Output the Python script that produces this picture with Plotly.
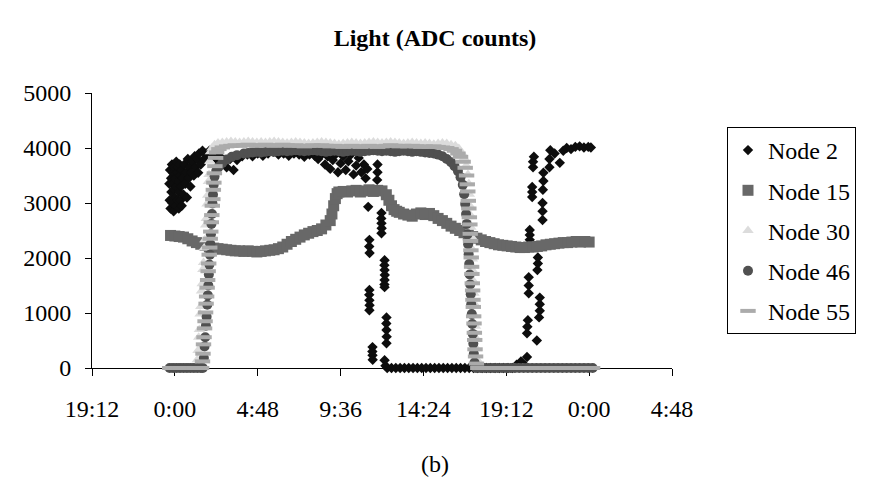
import plotly.graph_objects as go

FONT = "Liberation Serif, Times New Roman, serif"

# ---- axis ticks (time in hours from midnight of day 1) ----
x_tick_hours = [-4.8, 0.0, 4.8, 9.6, 14.4, 19.2, 24.0, 28.8]
x_tick_labels = ["19:12", "0:00", "4:48", "9:36", "14:24", "19:12", "0:00", "4:48"]
y_tick_values = [0, 1000, 2000, 3000, 4000, 5000]

# ---- Node 2 (hour, ADC) ----
node2_morning = [(-0.32, 3350), (-0.3, 3050), (-0.28, 3600), (-0.25, 2900), (-0.22, 3450), (-0.2, 3200),
                 (-0.17, 3700), (-0.15, 3000), (-0.12, 3350), (-0.1, 3550), (-0.07, 2850), (-0.05, 3250),
                 (-0.02, 3650), (0.0, 3100), (0.03, 3450), (0.05, 2950), (0.08, 3750), (0.1, 3300),
                 (0.13, 3550), (0.15, 3050), (0.18, 3650), (0.2, 3400), (0.23, 2900), (0.25, 3200),
                 (0.28, 3700), (0.3, 3500), (0.33, 3050), (0.35, 3300), (0.38, 3600), (0.4, 2950),
                 (0.45, 3450), (0.5, 3150), (0.55, 3700), (0.6, 3350), (0.65, 3550), (0.7, 3100),
                 (0.75, 3800), (0.8, 3450), (0.85, 3650), (0.9, 3300), (0.95, 3550), (1.0, 3750),
                 (1.1, 3500), (1.15, 3850), (1.2, 3650), (1.3, 3800), (1.35, 3550), (1.4, 3900),
                 (1.5, 3700), (1.6, 3950), (1.7, 3800), (1.8, 3900), (1.9, 3850), (2.0, 3950),
                 (2.1, 3850), (2.2, 3900)]
node2_day = [(2.4, 3800), (2.6, 3850), (2.8, 3750), (3.0, 3650), (3.2, 3800), (3.4, 3600), (3.6, 3780),
             (3.9, 3850), (4.2, 3880), (4.5, 3850), (4.8, 3900), (5.1, 3860), (5.4, 3900), (5.7, 3930),
             (6.0, 3880), (6.3, 3900), (6.6, 3860), (6.9, 3900), (7.2, 3880), (7.5, 3840), (7.8, 3880),
             (8.1, 3860), (8.3, 3800), (8.5, 3880), (8.7, 3700), (8.85, 3850), (9.0, 3620),
             (9.15, 3780), (9.3, 3880), (9.45, 3560), (9.6, 3720), (9.75, 3850), (9.9, 3600),
             (10.05, 3760), (10.2, 3880), (10.35, 3520), (10.5, 3680), (10.65, 3820), (10.8, 3560),
             (10.95, 3700), (11.05, 3450), (11.15, 3620)]
node2_drop = [(11.74, 3700), (11.74, 3560), (11.72, 3420), (11.2, 2930), (11.97, 2820), (11.96, 2720),
              (11.97, 2630), (11.98, 2540), (11.97, 2450), (11.27, 2330), (11.26, 2210), (11.28, 2090),
              (12.15, 1960), (12.14, 1870), (12.15, 1780), (12.16, 1690), (12.15, 1600), (12.14, 1520),
              (12.15, 1470), (11.27, 1420), (11.26, 1330), (11.27, 1230), (11.28, 1140), (11.27, 1050),
              (12.26, 920), (12.25, 810), (12.26, 690), (12.27, 570), (12.26, 450), (11.45, 380),
              (11.44, 300), (11.45, 230), (11.46, 150), (12.15, 140), (12.2, 40)]
node2_night = [(12.3, 0), (12.55, 0), (12.8, 0), (13.05, 0), (13.3, 0), (13.55, 0), (13.8, 0), (14.05, 0),
               (14.3, 0), (14.55, 0), (14.8, 0), (15.05, 0), (15.3, 0), (15.55, 0), (15.8, 0), (16.05, 0),
               (16.3, 0), (16.55, 0), (16.8, 0), (17.05, 0), (17.3, 0), (17.55, 0), (17.8, 0), (18.05, 0),
               (18.3, 0), (18.55, 0), (18.8, 0), (19.05, 0), (19.3, 0), (19.55, 0)]
node2_rise = [(19.8, 60), (20.05, 120), (20.3, 40), (20.4, 200), (20.97, 500), (20.4, 630), (20.42, 750),
              (20.45, 870), (21.1, 920), (21.14, 1040), (21.14, 1160), (21.14, 1280), (20.5, 1360),
              (20.5, 1500), (20.5, 1650), (21.0, 1780), (21.03, 1900), (21.03, 2010), (20.56, 2330),
              (20.56, 2420), (20.56, 2510), (21.3, 2690), (21.3, 2850), (21.3, 3000), (20.7, 3110),
              (20.7, 3200), (20.7, 3290), (21.32, 3240), (21.35, 3400), (21.35, 3550), (20.75, 3650),
              (20.75, 3750), (20.8, 3840), (21.7, 3650), (21.7, 3800), (21.75, 3960), (22.0, 3900),
              (22.3, 3730), (22.5, 3950), (22.7, 4000), (22.95, 3980), (23.2, 4020), (23.45, 4030),
              (23.7, 4010), (23.95, 4020), (24.1, 4010)]

# ---- Node 15 (hour, ADC) ----
node15 = [(-0.25, 2410), (0.0, 2400), (0.25, 2390), (0.5, 2380), (0.75, 2350), (1.0, 2310), (1.25, 2280),
          (1.5, 2250), (1.75, 2230), (2.0, 2200), (2.25, 2180), (2.5, 2170), (2.75, 2160), (3.0, 2150),
          (3.25, 2140), (3.5, 2130), (3.75, 2130), (4.0, 2120), (4.25, 2130), (4.5, 2120), (4.75, 2110),
          (5.0, 2120), (5.25, 2130), (5.5, 2140), (5.75, 2150), (6.0, 2170), (6.25, 2200), (6.5, 2250),
          (6.75, 2300), (7.0, 2340), (7.25, 2380), (7.5, 2420), (7.75, 2450), (8.0, 2480), (8.25, 2500),
          (8.5, 2530), (8.75, 2600), (9.0, 2680), (9.1, 2800), (9.2, 2950), (9.3, 3080), (9.4, 3170),
          (9.5, 3200), (9.75, 3210), (10.0, 3200), (10.25, 3220), (10.5, 3230), (10.75, 3200),
          (11.0, 3220), (11.25, 3240), (11.5, 3210), (11.75, 3230), (12.0, 3220), (12.25, 3150),
          (12.4, 3050), (12.55, 2950), (12.7, 2880), (12.85, 2850), (13.0, 2830), (13.25, 2800),
          (13.5, 2780), (13.75, 2760), (14.0, 2800), (14.25, 2820), (14.5, 2790), (14.75, 2810),
          (15.0, 2770), (15.25, 2720), (15.5, 2680), (15.75, 2630), (16.0, 2580), (16.25, 2540),
          (16.5, 2500), (16.75, 2460), (17.0, 2420), (17.25, 2390), (17.5, 2360), (17.75, 2330),
          (18.0, 2300), (18.25, 2280), (18.5, 2260), (18.75, 2240), (19.0, 2230), (19.25, 2220),
          (19.5, 2210), (19.75, 2200), (20.0, 2190), (20.25, 2190), (20.5, 2200), (20.75, 2200),
          (21.0, 2210), (21.25, 2220), (21.5, 2240), (21.75, 2250), (22.0, 2260), (22.25, 2270),
          (22.5, 2280), (22.75, 2280), (23.0, 2290), (23.25, 2300), (23.5, 2290), (23.75, 2300),
          (24.0, 2290)]

# ---- Node 30 (hour, ADC) ----
node30 = [(-0.3, 0), (-0.1, 0), (0.1, 0), (0.3, 0), (0.5, 0), (0.7, 0), (0.9, 0), (1.1, 0), (1.25, 0),
          (1.3, 150), (1.34, 320), (1.38, 560), (1.42, 700), (1.46, 980), (1.5, 1120), (1.54, 1400),
          (1.58, 1530), (1.62, 1790), (1.66, 1920), (1.7, 2180), (1.74, 2330), (1.78, 2600), (1.82, 2720),
          (1.86, 2980), (1.9, 3140), (1.94, 3390), (1.98, 3520), (2.02, 3760), (2.06, 3930),
          (2.15, 4000), (2.3, 4060), (2.5, 4090), (2.75, 4100), (3.0, 4110), (3.25, 4120), (3.5, 4110),
          (3.75, 4100), (4.0, 4110), (4.25, 4120), (4.5, 4110), (4.75, 4100), (5.0, 4110), (5.25, 4100),
          (5.5, 4110), (5.75, 4120), (6.0, 4110), (6.25, 4100), (6.5, 4090), (6.75, 4100), (7.0, 4110),
          (7.25, 4100), (7.5, 4090), (7.75, 4080), (8.0, 4090), (8.25, 4100), (8.5, 4110), (8.75, 4100),
          (9.0, 4090), (9.25, 4080), (9.5, 4070), (9.75, 4080), (10.0, 4090), (10.25, 4100), (10.5, 4090),
          (10.75, 4080), (11.0, 4090), (11.25, 4100), (11.5, 4110), (11.75, 4100), (12.0, 4090),
          (12.25, 4100), (12.5, 4110), (12.75, 4100), (13.0, 4090), (13.25, 4080), (13.5, 4090),
          (13.75, 4100), (14.0, 4090), (14.25, 4080), (14.5, 4090), (14.75, 4080), (15.0, 4070),
          (15.25, 4080), (15.5, 4090), (15.75, 4080), (16.0, 4060), (16.25, 4040),
          (16.45, 3990), (16.6, 3920), (16.75, 3820), (16.88, 3680), (16.98, 3520), (17.03, 3350),
          (17.06, 3160), (17.09, 2950), (17.12, 2780), (17.15, 2560), (17.18, 2390), (17.21, 2170),
          (17.24, 1980), (17.27, 1770), (17.3, 1580), (17.33, 1360), (17.36, 1170), (17.39, 950),
          (17.42, 760), (17.45, 540), (17.48, 350), (17.52, 150), (17.58, 30),
          (17.65, 0), (17.9, 0), (18.15, 0), (18.4, 0), (18.65, 0), (18.9, 0), (19.15, 0), (19.4, 0),
          (19.65, 0), (19.9, 0), (20.15, 0), (20.4, 0), (20.65, 0), (20.9, 0), (21.15, 0), (21.4, 0),
          (21.65, 0), (21.9, 0), (22.15, 0), (22.4, 0), (22.65, 0), (22.9, 0), (23.15, 0), (23.4, 0),
          (23.65, 0), (23.9, 0), (24.15, 0)]

# ---- Node 46 (hour, ADC) ----
node46 = [(-0.3, 0), (-0.1, 0), (0.1, 0), (0.3, 0), (0.5, 0), (0.7, 0), (0.9, 0), (1.1, 0), (1.3, 0),
          (1.5, 0), (1.62, 0),
          (1.68, 180), (1.72, 390), (1.76, 560), (1.8, 770), (1.84, 930), (1.88, 1150), (1.91, 1320),
          (1.94, 1500), (1.97, 1700), (2.0, 1880), (2.03, 2060), (2.06, 2250), (2.09, 2430), (2.12, 2620),
          (2.15, 2800), (2.18, 2990), (2.21, 3150), (2.25, 3330), (2.3, 3480),
          (2.4, 3580), (2.55, 3660), (2.75, 3730), (3.0, 3790), (3.3, 3840), (3.6, 3870), (4.0, 3900),
          (4.25, 3910), (4.5, 3920), (4.75, 3930), (5.0, 3920), (5.25, 3930), (5.5, 3940), (5.75, 3930),
          (6.0, 3940), (6.25, 3950), (6.5, 3940), (6.75, 3950), (7.0, 3960), (7.25, 3950), (7.5, 3940),
          (7.75, 3950), (8.0, 3960), (8.25, 3950), (8.5, 3940), (8.75, 3930), (9.0, 3940), (9.25, 3950),
          (9.5, 3940), (9.75, 3930), (10.0, 3940), (10.25, 3950), (10.5, 3940), (10.75, 3930),
          (11.0, 3940), (11.25, 3950), (11.5, 3960), (11.75, 3950), (12.0, 3940), (12.25, 3950),
          (12.5, 3940), (12.75, 3930), (13.0, 3940), (13.25, 3950), (13.5, 3940), (13.75, 3930),
          (14.0, 3940), (14.25, 3930), (14.5, 3920), (14.75, 3910), (15.0, 3900), (15.25, 3880),
          (15.5, 3850), (15.75, 3800), (16.0, 3740), (16.2, 3670), (16.4, 3580), (16.55, 3470),
          (16.68, 3330),
          (16.76, 3160), (16.82, 2980), (16.87, 2800), (16.91, 2620), (16.95, 2430), (16.99, 2250),
          (17.02, 2070), (17.05, 1890), (17.08, 1700), (17.11, 1520), (17.14, 1340), (17.17, 1160),
          (17.2, 980), (17.23, 800), (17.26, 620), (17.29, 440), (17.32, 260), (17.36, 100),
          (17.45, 0), (17.7, 0), (17.95, 0), (18.2, 0), (18.45, 0), (18.7, 0), (18.95, 0), (19.2, 0),
          (19.45, 0), (19.7, 0), (19.95, 0), (20.2, 0), (20.45, 0), (20.7, 0), (20.95, 0), (21.2, 0),
          (21.45, 0), (21.7, 0), (21.95, 0), (22.2, 0), (22.45, 0), (22.7, 0), (22.95, 0), (23.2, 0),
          (23.45, 0), (23.7, 0), (23.95, 0), (24.2, 0)]

# ---- Node 55 (hour, ADC) ----
node55 = [(-0.3, 0), (-0.1, 0), (0.1, 0), (0.3, 0), (0.5, 0), (0.7, 0), (0.9, 0), (1.1, 0), (1.3, 0),
          (1.45, 0), (1.55, 0),
          (1.6, 120), (1.63, 260), (1.66, 430), (1.69, 560), (1.72, 720), (1.75, 850), (1.78, 1010),
          (1.81, 1170), (1.84, 1300), (1.87, 1460), (1.9, 1600), (1.93, 1760), (1.96, 1900), (1.99, 2060),
          (2.02, 2190), (2.05, 2350), (2.08, 2480), (2.11, 2650), (2.14, 2780), (2.17, 2950), (2.2, 3070),
          (2.23, 3240), (2.26, 3370), (2.29, 3540), (2.32, 3670), (2.36, 3820), (2.42, 3920),
          (2.55, 3980), (2.75, 4010), (3.0, 4030), (3.25, 4040), (3.5, 4050), (3.75, 4040), (4.0, 4050),
          (4.25, 4060), (4.5, 4050), (4.75, 4040), (5.0, 4050), (5.25, 4060), (5.5, 4050), (5.75, 4040),
          (6.0, 4050), (6.25, 4060), (6.5, 4050), (6.75, 4040), (7.0, 4050), (7.25, 4040), (7.5, 4030),
          (7.75, 4040), (8.0, 4050), (8.25, 4040), (8.5, 4050), (8.75, 4040), (9.0, 4030), (9.25, 4040),
          (9.5, 4030), (9.75, 4020), (10.0, 4030), (10.25, 4040), (10.5, 4030), (10.75, 4020),
          (11.0, 4030), (11.25, 4040), (11.5, 4030), (11.75, 4020), (12.0, 4030), (12.25, 4040),
          (12.5, 4050), (12.75, 4040), (13.0, 4030), (13.25, 4040), (13.5, 4030), (13.75, 4040),
          (14.0, 4030), (14.25, 4020), (14.5, 4030), (14.75, 4020), (15.0, 4030), (15.25, 4020),
          (15.5, 4010), (15.75, 4000), (16.0, 3980), (16.2, 3950), (16.4, 3900), (16.55, 3840),
          (16.7, 3750), (16.82, 3640),
          (16.9, 3500), (16.94, 3340), (16.97, 3210), (17.0, 3040), (17.03, 2900), (17.06, 2740),
          (17.09, 2610), (17.11, 2440), (17.13, 2310), (17.15, 2140), (17.17, 2010), (17.19, 1840),
          (17.21, 1710), (17.23, 1540), (17.25, 1410), (17.27, 1240), (17.29, 1110), (17.31, 940),
          (17.33, 810), (17.35, 640), (17.37, 510), (17.39, 340), (17.42, 210), (17.47, 80),
          (17.55, 0), (17.8, 0), (18.05, 0), (18.3, 0), (18.55, 0), (18.8, 0), (19.05, 0), (19.3, 0),
          (19.55, 0), (19.8, 0), (20.05, 0), (20.3, 0), (20.55, 0), (20.8, 0), (21.05, 0), (21.3, 0),
          (21.55, 0), (21.8, 0), (22.05, 0), (22.3, 0), (22.55, 0), (22.8, 0), (23.05, 0), (23.3, 0),
          (23.55, 0), (23.8, 0), (24.05, 0), (24.2, 0)]

node2 = node2_morning + node2_day + node2_drop + node2_night + node2_rise

series = [
    ("Node 2", node2, dict(symbol="diamond", size=8, color="#0d0d0d", line=dict(width=0))),
    ("Node 15", node15, dict(symbol="square", size=11, color="#686868", line=dict(width=0))),
    ("Node 30", node30, dict(symbol="triangle-up", size=10, color="#dcdcdc", line=dict(width=0))),
    ("Node 46", node46, dict(symbol="circle", size=10, color="#505050", line=dict(width=0))),
    ("Node 55", node55, dict(symbol="line-ew", size=11, color="#ababab",
                             line=dict(width=4, color="#ababab"))),
]

fig = go.Figure()
for name, pts, mk in series:
    fig.add_trace(go.Scatter(
        x=[p[0] for p in pts], y=[p[1] for p in pts],
        mode="markers", name=name, legendgroup=name, marker=mk, cliponaxis=False,
    ))

tick_font = dict(family=FONT, size=24, color="black")

fig.update_layout(
    width=870, height=483,
    margin=dict(l=92, r=198, t=93, b=115, autoexpand=False),
    paper_bgcolor="white", plot_bgcolor="white",
    title=dict(text="<b>Light (ADC counts)</b>", x=0.5, xref="container", xanchor="center",
               y=1 - 38 / 483, yref="container", yanchor="middle",
               font=dict(family=FONT, size=24, color="black")),
    legend=dict(x=(727 - 92) / 580, xanchor="left", y=(368 - 127) / 275, yanchor="top",
                bordercolor="black", borderwidth=1, bgcolor="white", font=tick_font,
                tracegroupgap=6, traceorder="grouped"),
    showlegend=True,
)
fig.update_xaxes(range=[-4.8, 28.8], tickmode="array", tickvals=x_tick_hours, ticktext=x_tick_labels,
                 showgrid=False, zeroline=False, showline=True, linecolor="black", linewidth=1,
                 ticks="outside", ticklen=7, tickcolor="black", tickfont=tick_font,
                 ticklabelstandoff=12, layer="below traces")
fig.update_yaxes(range=[0, 5000], tickmode="array", tickvals=y_tick_values,
                 showgrid=False, zeroline=False, showline=True, linecolor="black", linewidth=1,
                 ticks="outside", ticklen=6, tickcolor="black", tickfont=tick_font,
                 ticklabelstandoff=9, layer="below traces")
fig.add_annotation(text="(b)", xref="paper", yref="paper", x=(435 - 92) / 580, y=(368 - 464) / 275,
                   xanchor="center", yanchor="middle", showarrow=False, font=tick_font)

fig.write_html("out.html")
